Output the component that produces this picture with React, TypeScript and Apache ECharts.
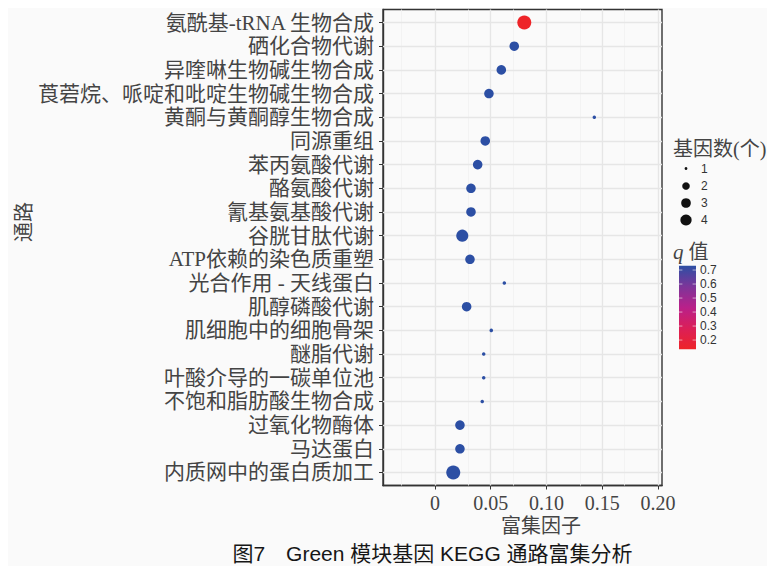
import { useEffect, useRef } from "react";
import * as echarts from "echarts";

// KEGG pathways, listed from the top row to the bottom row
const pathways = [
  "氨酰基-tRNA 生物合成",
  "硒化合物代谢",
  "异喹啉生物碱生物合成",
  "莨菪烷、哌啶和吡啶生物碱生物合成",
  "黄酮与黄酮醇生物合成",
  "同源重组",
  "苯丙氨酸代谢",
  "酪氨酸代谢",
  "氰基氨基酸代谢",
  "谷胱甘肽代谢",
  "ATP依赖的染色质重塑",
  "光合作用 - 天线蛋白",
  "肌醇磷酸代谢",
  "肌细胞中的细胞骨架",
  "醚脂代谢",
  "叶酸介导的一碳单位池",
  "不饱和脂肪酸生物合成",
  "过氧化物酶体",
  "马达蛋白",
  "内质网中的蛋白质加工",
];

const richFactor = [
  0.0801, 0.0711, 0.0595, 0.0484, 0.1429, 0.0451, 0.0383, 0.0323, 0.0323, 0.0245,
  0.0314, 0.0622, 0.0284, 0.0505, 0.0437, 0.0437, 0.0424, 0.0224, 0.0224, 0.0164,
];

const geneCount = [4, 2, 2, 2, 1, 2, 2, 2, 2, 3, 2, 1, 2, 1, 1, 1, 1, 2, 2, 4];

const qValue = [
  0.134, 0.731, 0.731, 0.731, 0.731, 0.731, 0.731, 0.731, 0.731, 0.731,
  0.731, 0.731, 0.731, 0.731, 0.731, 0.731, 0.731, 0.731, 0.731, 0.731,
];

const xTicks = [0, 0.05, 0.1, 0.15, 0.2];
const xMinorTicks = [-0.025, 0.025, 0.075, 0.125, 0.175];
const sizeLegendCounts = [1, 2, 3, 4];
const qLegendTicks = [0.7, 0.6, 0.5, 0.4, 0.3, 0.2];

const Q_MIN = 0.134;
const Q_MAX = 0.731;
// low q -> red, high q -> blue
const qColors = ["#EE2428", "#DB1F58", "#B9208A", "#7D3599", "#2C4FA4"];

const SERIF = "'Liberation Serif', 'Noto Sans CJK SC', serif";
const SANS = "'Liberation Sans', 'Noto Sans CJK SC', sans-serif";
const TEXT = "#444444";

const dotSize = (n: number) => 3.5 + 10.5 * Math.sqrt((n - 1) / 3);

export default function App() {
  const ref = useRef<HTMLDivElement>(null);

  useEffect(() => {
    if (!ref.current) return;
    const chart = echarts.init(ref.current, null, { renderer: "svg" });

    const gridLeft = 375;
    const gridTop = 1.5;
    const gridW = 279;
    const gridH = 476;

    // legend geometry
    const legX = 665;
    const sizeYs = [160.5, 178, 195, 212];
    const barX = 671;
    const barTop = 257.7;
    const barH = 83.6;
    const barW = 17;
    const qToY = (q: number) => barTop + ((Q_MAX - q) / (Q_MAX - Q_MIN)) * barH;

    const major = { color: "#E6E6E6", width: 1.3, type: "solid" as const };
    const minor = { color: "#F1F1F1", width: 0.8, type: "solid" as const };

    const gridLines = [
      ...xMinorTicks.map((v) => ({ xAxis: v, lineStyle: minor })),
      ...xTicks.map((v) => ({ xAxis: v, lineStyle: major })),
      ...pathways.map((_, i) => ({ yAxis: i, lineStyle: major })),
    ];

    const graphics: any[] = [
      {
        type: "text",
        x: 16,
        y: 214,
        rotation: Math.PI / 2,
        style: {
          text: "通路",
          font: `20px ${SERIF}`,
          fill: TEXT,
          align: "center",
          verticalAlign: "middle",
        },
      },
      {
        type: "text",
        x: 533,
        y: 518,
        style: {
          text: "富集因子",
          font: `20px ${SERIF}`,
          fill: TEXT,
          align: "center",
          verticalAlign: "middle",
        },
      },
      {
        type: "text",
        x: 424.5,
        y: 545,
        style: {
          text: "图7\u3000Green 模块基因 KEGG 通路富集分析",
          font: `21px ${SANS}`,
          fill: "#161616",
          align: "center",
          verticalAlign: "middle",
        },
      },
      {
        type: "text",
        x: legX,
        y: 141,
        style: {
          text: "基因数(个)",
          font: `20px ${SERIF}`,
          fill: TEXT,
          align: "left",
          verticalAlign: "middle",
        },
      },
      ...sizeLegendCounts.map((n, i) => ({
        type: "circle",
        shape: { cx: 678, cy: sizeYs[i], r: (dotSize(n) * 0.8) / 2 },
        style: { fill: "#111111" },
      })),
      ...sizeLegendCounts.map((n, i) => ({
        type: "text",
        x: 693,
        y: sizeYs[i],
        style: {
          text: String(n),
          font: `12px ${SANS}`,
          fill: "#333333",
          align: "left",
          verticalAlign: "middle",
        },
      })),
      {
        type: "text",
        x: legX,
        y: 244,
        style: {
          text: "{q|q}{c|值}",
          align: "left",
          verticalAlign: "middle",
          rich: {
            q: { font: `italic 21px ${SERIF}`, fill: TEXT, padding: [0, 5, 0, 0] },
            c: { font: `20px ${SERIF}`, fill: TEXT },
          },
        },
      },
      {
        type: "rect",
        shape: { x: barX, y: barTop, width: barW, height: barH },
        style: {
          fill: new echarts.graphic.LinearGradient(
            0,
            1,
            0,
            0,
            qColors.map((c, i) => ({ offset: i / (qColors.length - 1), color: c }))
          ),
        },
      },
      ...qLegendTicks.flatMap((q) => [
        {
          type: "line",
          shape: { x1: barX, y1: qToY(q), x2: barX + 3.4, y2: qToY(q) },
          style: { stroke: "rgba(255,255,255,0.7)", lineWidth: 0.8 },
        },
        {
          type: "line",
          shape: { x1: barX + barW - 3.4, y1: qToY(q), x2: barX + barW, y2: qToY(q) },
          style: { stroke: "rgba(255,255,255,0.7)", lineWidth: 0.8 },
        },
        {
          type: "text",
          x: 692,
          y: qToY(q),
          style: {
            text: q.toFixed(1),
            font: `12px ${SANS}`,
            fill: "#333333",
            align: "left",
            verticalAlign: "middle",
          },
        },
      ]),
    ];

    chart.setOption({
      animation: false,
      backgroundColor: "#FAFAFA",
      grid: {
        left: gridLeft,
        top: gridTop,
        width: gridW,
        height: gridH,
        show: true,
        backgroundColor: "transparent",
        borderColor: "#333333",
        borderWidth: 1.4,
        containLabel: false,
      },
      xAxis: {
        type: "value",
        min: -0.0466,
        max: 0.2036,
        splitLine: { show: false },
        axisLine: { show: true, onZero: false, lineStyle: { color: "#333333", width: 1.4 } },
        axisTick: {
          show: true,
          customValues: xTicks,
          length: 4,
          lineStyle: { color: "#333333", width: 1 },
        },
        axisLabel: {
          customValues: xTicks,
          formatter: (v: number) => (v === 0 ? "0" : v.toFixed(2)),
          margin: 7,
          fontSize: 20,
          fontFamily: SERIF,
          color: TEXT,
        },
      },
      yAxis: {
        type: "value",
        inverse: true,
        min: -0.55,
        max: 19.55,
        splitLine: { show: false },
        axisLine: { show: true, onZero: false, lineStyle: { color: "#333333", width: 1.4 } },
        axisTick: {
          show: true,
          customValues: pathways.map((_, i) => i),
          length: 4,
          lineStyle: { color: "#333333", width: 1 },
        },
        axisLabel: {
          customValues: pathways.map((_, i) => i),
          formatter: (v: number) => pathways[Math.round(v)] ?? "",
          margin: 9,
          fontSize: 21,
          fontFamily: SERIF,
          color: TEXT,
        },
      },
      visualMap: {
        type: "continuous",
        show: false,
        seriesIndex: 1,
        dimension: 2,
        min: Q_MIN,
        max: Q_MAX,
        inRange: { color: qColors },
      },
      series: [
        {
          type: "scatter",
          data: [],
          silent: true,
          z: 1,
          markLine: {
            silent: true,
            z: 1,
            symbol: ["none", "none"],
            label: { show: false },
            animation: false,
            data: gridLines,
          },
        },
        {
          type: "scatter",
          z: 3,
          data: pathways.map((_, i) => [richFactor[i], i, qValue[i], geneCount[i]]),
          symbolSize: (val: number[]) => dotSize(val[3]),
          itemStyle: { opacity: 1 },
        },
      ],
      graphic: graphics,
    });

    return () => chart.dispose();
  }, []);

  return (
    <div
      ref={ref}
      style={{ width: 759, height: 558, background: "#FAFAFA" }}
    />
  );
}
